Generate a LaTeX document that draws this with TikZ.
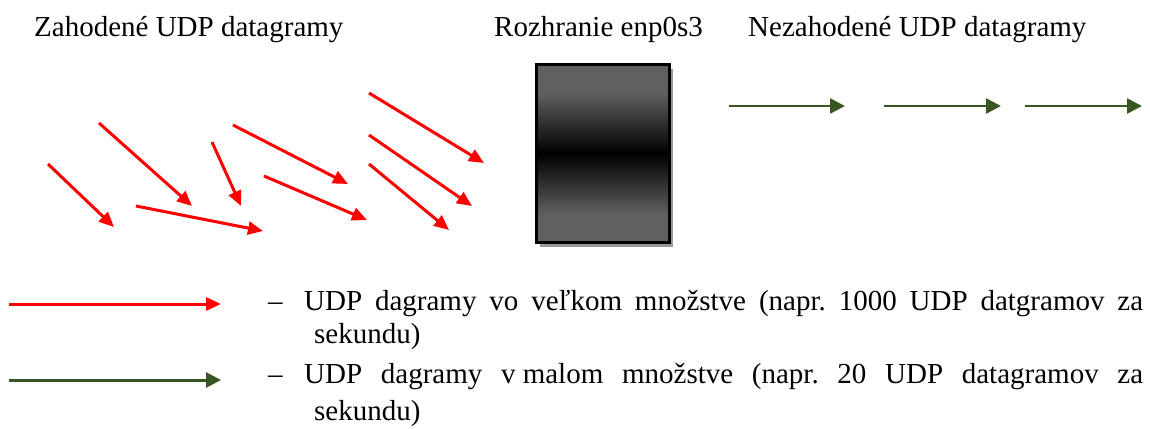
\documentclass[tikz,border=0pt]{standalone}
\usepackage{fontspec}
\setmainfont{Liberation Serif}
\usetikzlibrary{arrows.meta,shadows}
\definecolor{dgreen}{RGB}{56,87,35}
\definecolor{boxgray}{RGB}{96,96,96}
\pgfdeclareverticalshading{boxshade}{100bp}{color(0bp)=(boxgray); color(33bp)=(boxgray); color(50bp)=(black); color(67bp)=(boxgray); color(100bp)=(boxgray)}
\frenchspacing
\begin{document}
\begin{tikzpicture}[x=1pt,y=-1pt,
  lbl/.style={anchor=base west,inner sep=0pt,font=\fontsize{29}{34}\selectfont},
  redarr/.style={draw=red,line width=3pt,-{Triangle[length=15pt,width=13pt]}},
  grnarr/.style={draw=dgreen,line width=2.5pt,-{Triangle[length=15pt,width=15pt]}}]
\useasboundingbox (0,0) rectangle (1150,428);

% titles
\node[lbl] (tz) at (34,37) {Zahodené UDP datagramy};
\node[lbl] (tr) at (494,37) {Rozhranie enp0s3};
\node[lbl] (tn) at (748,37) {Nezahodené UDP datagramy};

% interface box
\node[draw=black,line width=3pt,shading=boxshade,minimum width=133pt,minimum height=178pt,inner sep=0pt,
  drop shadow={shadow xshift=3pt,shadow yshift=-4pt,fill=black!40,opacity=1}] (iface) at (603,153.5) {};

% red arrows (dropped datagrams)
\coordinate (r1a) at (48,164);  \coordinate (r1b) at (114,227);
\coordinate (r2a) at (99,123);  \coordinate (r2b) at (192,206);
\coordinate (r3a) at (212,142); \coordinate (r3b) at (241,206);
\coordinate (r4a) at (233,125); \coordinate (r4b) at (348,184);
\coordinate (r5a) at (136,206); \coordinate (r5b) at (263,231);
\coordinate (r6a) at (264,176); \coordinate (r6b) at (367,220);
\coordinate (r7a) at (369,93);  \coordinate (r7b) at (484,163);
\coordinate (r8a) at (369,135); \coordinate (r8b) at (472,206);
\coordinate (r9a) at (369,164); \coordinate (r9b) at (449,230);
\foreach \i in {1,...,9} {\draw[redarr] (r\i a) -- (r\i b);}

% green arrows (passed datagrams)
\coordinate (g1a) at (729,106);  \coordinate (g1b) at (845,106);
\coordinate (g2a) at (884,106);  \coordinate (g2b) at (1001,106);
\coordinate (g3a) at (1025,106); \coordinate (g3b) at (1142,106);
\foreach \i in {1,2,3} {\draw[grnarr] (g\i a) -- (g\i b);}

% legend
\coordinate (lra) at (9,304);  \coordinate (lrb) at (221,304);
\coordinate (lga) at (9,380);  \coordinate (lgb) at (221,380);
\draw[redarr] (lra) -- (lrb);
\draw[grnarr,line width=3pt] (lga) -- (lgb);

\node[lbl] (d1) at (268,310) {–};
\node[lbl] (t1) at (304,310) {\makebox[839pt][s]{UDP dagramy vo veľkom množstve (napr. 1000 UDP datgramov za}};
\node[lbl] (s1) at (314,343) {sekundu)};
\node[lbl] (d2) at (268,383) {–};
\node[lbl] (t2) at (304,383) {\makebox[839pt][s]{UDP dagramy v\kern0.25em malom množstve (napr. 20 UDP datagramov za}};
\node[lbl] (s2) at (314,420) {sekundu)};
\end{tikzpicture}
\end{document}
